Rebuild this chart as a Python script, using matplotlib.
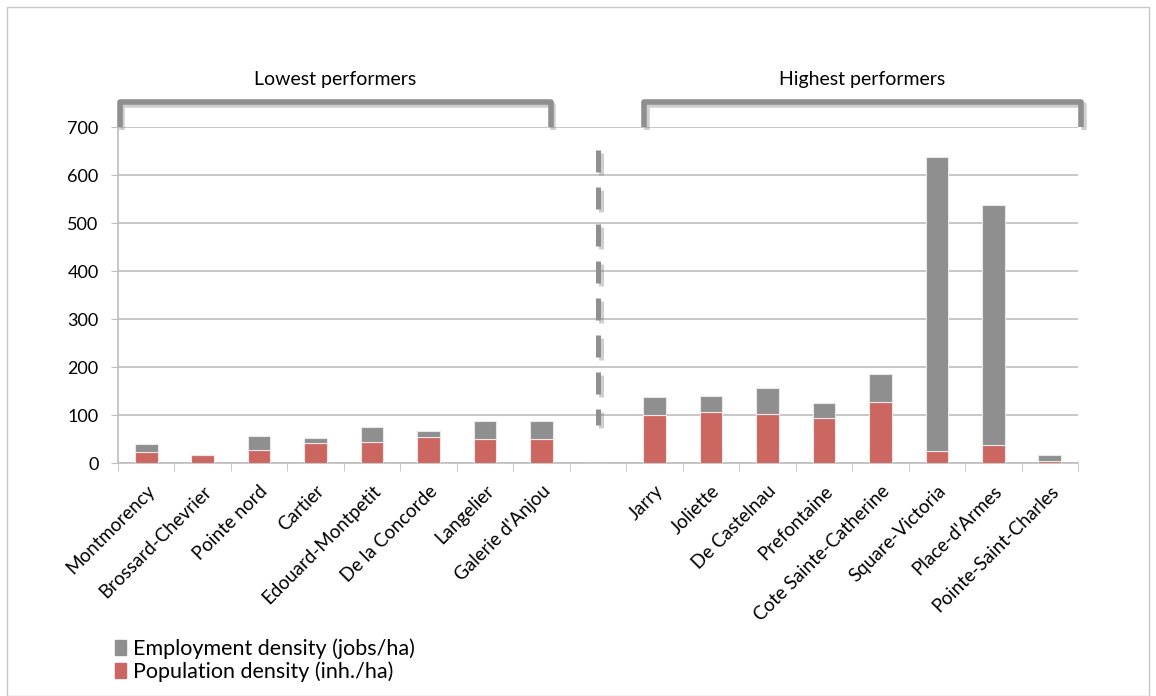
import matplotlib
matplotlib.use("Agg")
import matplotlib.pyplot as plt
import matplotlib.patheffects as pe
from matplotlib.patches import Patch, Rectangle
import numpy as np

plt.rcParams['font.family'] = ['Lato', 'DejaVu Sans']

# data (blank category separates the two groups)
categories = ["Montmorency", "Brossard-Chevrier", "Pointe nord", "Cartier",
              "Edouard-Montpetit", "De la Concorde", "Langelier", "Galerie d'Anjou",
              "",
              "Jarry", "Joliette", "De Castelnau", "Prefontaine",
              "Cote Sainte-Catherine", "Square-Victoria", "Place-d'Armes",
              "Pointe-Saint-Charles"]
population = [22, 16, 28, 42, 43, 54, 49, 51,
              0,
              99, 106, 103, 94, 128, 24, 37, 4]
employment = [18, 1, 28, 11, 31, 13, 38, 37,
              0,
              39, 34, 53, 32, 58, 613, 501, 13]
group_labels = ["Lowest performers", "Highest performers"]

RED = '#CC6661'
GRAY = '#8F8F8F'
LINE = '#BEBEBE'

fig = plt.figure(figsize=(11.56, 6.96), dpi=100)
ax = fig.add_axes([118 / 1156, 1 - 463 / 696, 960 / 1156, 336 / 696])

# figure frame
fig.patches.append(Rectangle((7 / 1156, 0), 1 - 14 / 1156, 1 - 7 / 696,
                             transform=fig.transFigure, fill=False,
                             edgecolor='#C8C8C8', linewidth=1))

x = np.arange(len(categories))
ax.bar(x, population, width=0.4, color=RED, edgecolor='#E8E8E8', linewidth=0.8,
       zorder=3, label='Population density (inh./ha)')
ax.bar(x, employment, width=0.4, bottom=population, color=GRAY,
       edgecolor='#E8E8E8', linewidth=0.8, zorder=3,
       label='Employment density (jobs/ha)')

ax.set_xlim(-0.5, len(categories) - 0.5)
ax.set_ylim(0, 700)
ax.set_yticks(range(0, 701, 100))
ax.yaxis.grid(True, color=LINE, linewidth=1.2, zorder=0)
ax.tick_params(axis='y', length=5, color=LINE, labelsize=13, pad=9)

ax.set_xticks(x)
ax.set_xticklabels(categories, rotation=45, ha='right', rotation_mode='anchor',
                   fontsize=13.5)
ax.tick_params(axis='x', length=0, pad=14)
ax.set_xticks(np.arange(-0.5, len(categories), 1.0), minor=True)
ax.tick_params(axis='x', which='minor', length=6, color=LINE)

for s in ['top', 'right']:
    ax.spines[s].set_visible(False)
for s in ['left', 'bottom']:
    ax.spines[s].set_color(LINE)
    ax.spines[s].set_linewidth(1.2)

# brackets above the groups
shadow = [pe.SimpleLineShadow(offset=(2, -2), alpha=0.35, shadow_color='#777777'), pe.Normal()]
for (x0, x1), lab in zip([(-0.47, 7.16), (8.81, 16.56)], group_labels):
    ax.plot([x0, x0, x1, x1], [700, 752, 752, 700], color=GRAY, linewidth=4,
            solid_joinstyle='round', solid_capstyle='butt', clip_on=False,
            path_effects=shadow, zorder=5)
    ax.text((x0 + x1) / 2, 800, lab, ha='center', va='center', fontsize=14)

# dashed separator
ax.plot([8, 8], [652, 79], color=GRAY, linewidth=3.6, linestyle=(0, (4.4, 3)),
        dash_capstyle='butt', clip_on=False, path_effects=shadow, zorder=5)

handles = [Patch(color=GRAY), Patch(color=RED)]
fig.legend(handles, ['Employment density (jobs/ha)', 'Population density (inh./ha)'],
           loc='upper left', bbox_to_anchor=(106 / 1156, 1 - 630 / 696),
           frameon=False, fontsize=15.5, handlelength=0.55, handleheight=0.65,
           handletextpad=0.3, labelspacing=0.1, borderaxespad=0)

fig.savefig('out.png', dpi=100)
